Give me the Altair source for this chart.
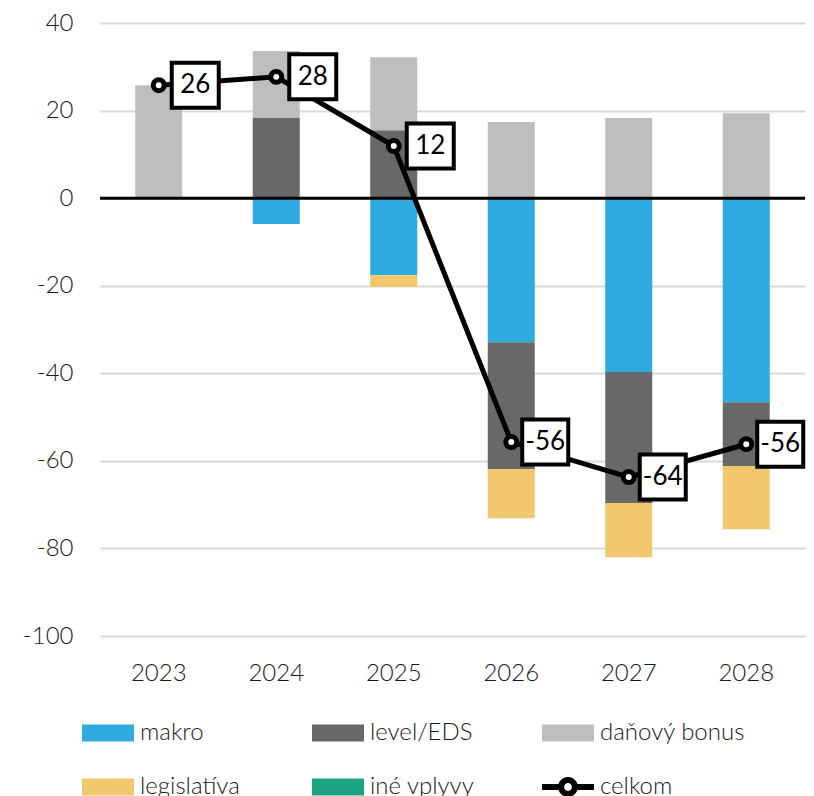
import altair as alt
import pandas as pd

# ---- data ----
years = ["2023", "2024", "2025", "2026", "2027", "2028"]
makro = [0.0, -5.9, -17.6, -32.9, -39.7, -46.6]
level_eds = [0.0, 18.3, 15.5, -29.0, -29.9, -14.6]
danovy_bonus = [25.8, 15.3, 16.7, 17.4, 18.3, 19.4]
legislativa = [0.0, 0.0, -2.7, -11.2, -12.4, -14.4]
ine_vplyvy = [0.0, 0.0, 0.0, 0.0, 0.0, 0.0]
celkom = [25.8, 27.7, 11.9, -55.7, -63.7, -56.2]
y_ticks = [-100, -80, -60, -40, -20, 0, 20, 40]

series_names = ["makro", "level/EDS", "daňový bonus", "legislatíva", "iné vplyvy", "celkom"]
series_colors = ["#2EAADF", "#686868", "#BEBEBE", "#F1C86D", "#1BA383", "#000000"]

FONT = "Lato"
TXT = "#1a1a1a"

# ---- tables ----
rows = []
for i, vals in enumerate([makro, level_eds, danovy_bonus, legislativa, ine_vplyvy]):
    for yr, v in zip(years, vals):
        if v != 0:
            rows.append({"year": yr, "series": series_names[i], "value": v, "order": i})
bars_df = pd.DataFrame(rows)

tot_df = pd.DataFrame({"year": years, "celkom": celkom})
tot_df["label"] = [str(int(round(v))) for v in celkom]
tot_df["nchar"] = tot_df["label"].str.len()

legend_df = pd.DataFrame({"series": series_names})
zero_df = pd.DataFrame({"y": [0]})

# ---- shapes ----
RECT_SYM = "M-1,-0.33H1V0.33H-1Z"
LINE_SYM = ("M-1,-0.12H-0.3V0.12H-1Z M0.3,-0.12H1V0.12H0.3Z "
            "M0.38,0A0.38,0.38 0 1,1 -0.38,0A0.38,0.38 0 1,1 0.38,0Z "
            "M0.15,0A0.15,0.15 0 1,0 -0.15,0A0.15,0.15 0 1,0 0.15,0Z")
BOX2 = "M0.26,-0.45H1.2V0.45H0.26Z"
BOX3 = "M0.22,-0.45H1.14V0.45H0.22Z"

x_enc = alt.X(
    "year:N",
    scale=alt.Scale(paddingInner=0.6, paddingOuter=0.3),
    axis=alt.Axis(title=None, labelAngle=0, ticks=False, domain=False, grid=False,
                  labelFontSize=24, labelFont=FONT, labelFontWeight=300,
                  labelColor=TXT, labelPadding=25),
)
y_scale = alt.Scale(domain=[-100, 40], nice=False, zero=False)

bars = alt.Chart(bars_df).mark_bar().encode(
    x=x_enc,
    y=alt.Y("value:Q", stack="zero", scale=y_scale,
            axis=alt.Axis(title=None, values=y_ticks, ticks=False, domain=False,
                          grid=True, gridColor="#d9d9d9", gridWidth=2,
                          labelExpr="'' + datum.value",
                          labelFontSize=24, labelFont=FONT, labelFontWeight=300,
                          labelColor=TXT, labelPadding=27)),
    fill=alt.Fill("series:N", scale=alt.Scale(domain=series_names[:5], range=series_colors[:5]),
                  legend=None),
    order=alt.Order("order:Q"),
)

zero_rule = alt.Chart(zero_df).mark_rule(color="black", strokeWidth=3).encode(y="y:Q")

line = alt.Chart(tot_df).mark_line(color="black", strokeWidth=5).encode(
    x="year:N", y="celkom:Q")

pts = alt.Chart(tot_df).mark_point(shape="circle", filled=True, fill="white", stroke="black",
                                   strokeWidth=5, size=120, opacity=1).encode(
    x="year:N", y="celkom:Q")

box2 = alt.Chart(tot_df).transform_filter("datum.nchar == 2").mark_point(
    shape=BOX2, size=10000, filled=True, fill="white", stroke="black",
    strokeWidth=4, opacity=1).encode(x="year:N", y="celkom:Q")
box3 = alt.Chart(tot_df).transform_filter("datum.nchar == 3").mark_point(
    shape=BOX3, size=10000, filled=True, fill="white", stroke="black",
    strokeWidth=4, opacity=1).encode(x="year:N", y="celkom:Q")

txt2 = alt.Chart(tot_df).transform_filter("datum.nchar == 2").mark_text(
    dx=36.5, fontSize=26, font=FONT, color="black", align="center", baseline="middle").encode(
    x="year:N", y="celkom:Q", text="label:N")
txt3 = alt.Chart(tot_df).transform_filter("datum.nchar == 3").mark_text(
    dx=34, fontSize=26, font=FONT, color="black", align="center", baseline="middle").encode(
    x="year:N", y="celkom:Q", text="label:N")

legend_common = dict(
    title=None, orient="none", legendX=-18, legendY=684, columns=3, direction="horizontal",
    symbolSize=2704, symbolStrokeWidth=0, symbolOpacity=1,
    labelFontSize=24, labelFont=FONT, labelFontWeight=300, labelColor=TXT, labelOffset=6,
    columnPadding=27, rowPadding=16, gridAlign="all", padding=0,
)
legend_layer = alt.Chart(legend_df).mark_point(filled=True, opacity=0).encode(
    color=alt.Color("series:N", scale=alt.Scale(domain=series_names, range=series_colors),
                    legend=alt.Legend(**legend_common)),
    shape=alt.Shape("series:N",
                    scale=alt.Scale(domain=series_names, range=[RECT_SYM] * 5 + [LINE_SYM]),
                    legend=alt.Legend(**legend_common)),
)

chart = alt.layer(bars, zero_rule, line, pts, box2, box3, txt2, txt3, legend_layer).properties(
    width=705, height=613,
    autosize=alt.AutoSizeParams(type="none"),
    padding={"left": 92, "top": 15, "right": 1, "bottom": 168},
).configure_view(stroke=None)

chart.save("out.html", embed_options={"renderer": "svg", "actions": False})
